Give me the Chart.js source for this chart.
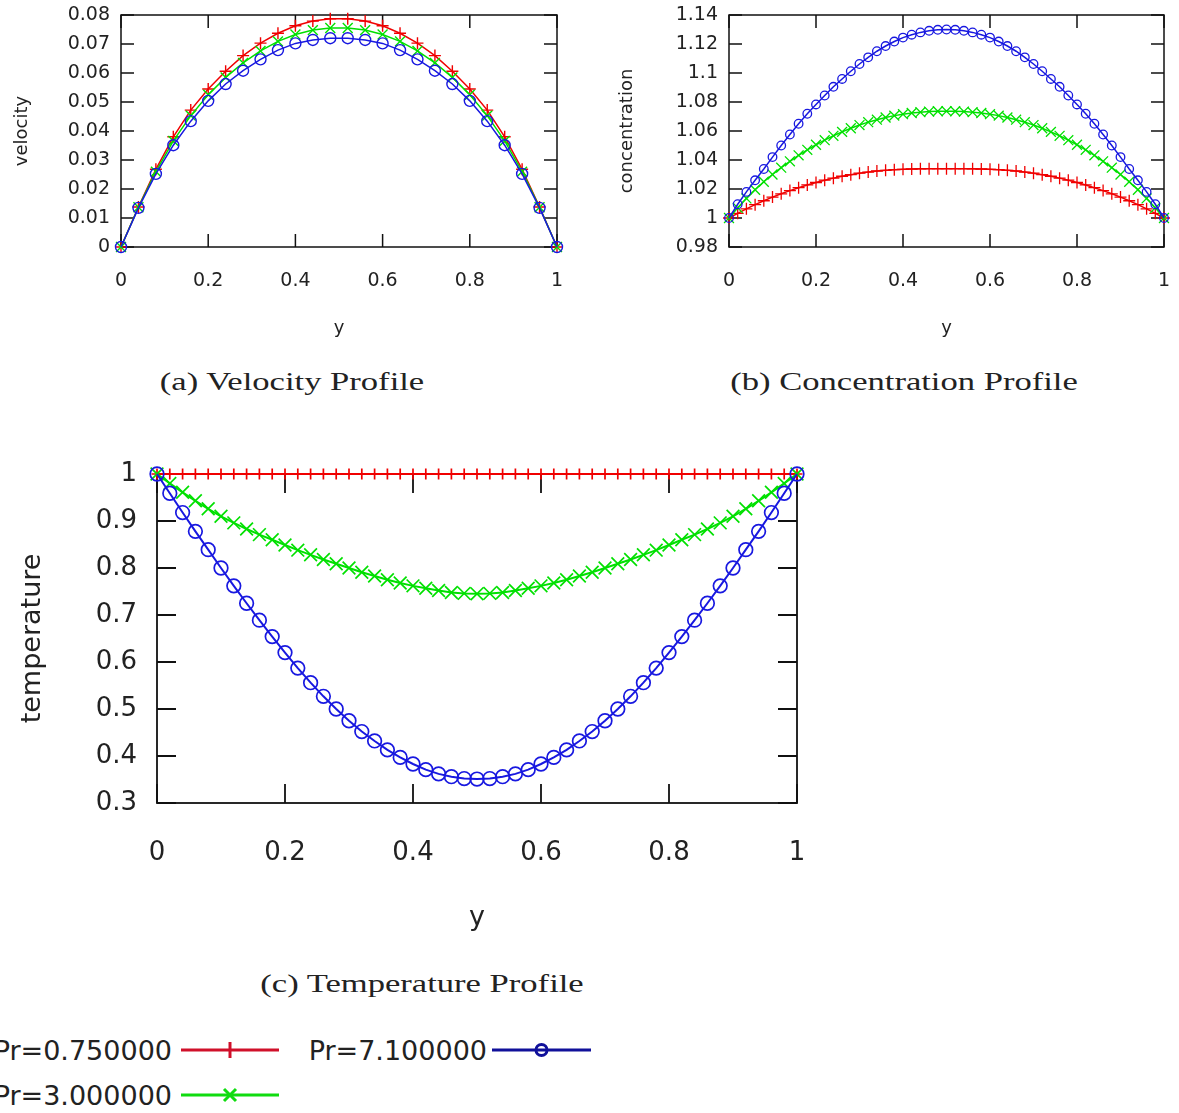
<!DOCTYPE html>
<html>
<head>
<meta charset="utf-8">
<script src="https://cdn.jsdelivr.net/npm/chart.js@4.4.1/dist/chart.umd.min.js"></script>
<style>
  body { margin: 0; background: #fff; }
  #page { position: relative; width: 1179px; height: 1113px; overflow: hidden; background: #fff; }
  .box { position: absolute; }
  .caption {
    position: absolute; white-space: nowrap; color: #222;
    font-family: "Liberation Serif", serif; font-size: 26px;
    transform: translate(-50%, -50%) scaleX(1.33);
  }
  .leg {
    position: absolute; white-space: nowrap; color: #222;
    font-family: "DejaVu Sans", sans-serif; font-size: 27px;
    transform: translate(-100%, -50%);
  }
  #legendLines { position: absolute; left: 0; top: 1020px; }
</style>
</head>
<body>
<div id="page">
  <div class="box" style="left:0;top:0;width:580px;height:350px"><canvas id="velChart"></canvas></div>
  <div class="box" style="left:600px;top:0;width:579px;height:350px"><canvas id="concChart"></canvas></div>
  <div class="box" style="left:0;top:440px;width:830px;height:510px"><canvas id="tempChart"></canvas></div>

  <div class="caption" style="left:292px;top:382px">(a) Velocity Profile</div>
  <div class="caption" style="left:904px;top:382px">(b) Concentration Profile</div>
  <div class="caption" style="left:422px;top:984px">(c) Temperature Profile</div>

  <div id="legend"></div>
</div>

<script>
// ----- dados -----
const seriesNames = ['Pr=0.750000', 'Pr=3.000000', 'Pr=7.100000'];

// posição no canal (26 pontos para velocidade)
const posVel = [0, 0.04, 0.08, 0.12, 0.16, 0.2, 0.24, 0.28, 0.32, 0.36, 0.4, 0.44, 0.48,
  0.52, 0.56, 0.6, 0.64, 0.68, 0.72, 0.76, 0.8, 0.84, 0.88, 0.92, 0.96, 1];

const velPr075 = [0, 0.0138, 0.0268, 0.0380, 0.0472, 0.0545, 0.0606, 0.0660, 0.0703, 0.0737, 0.0763, 0.0779, 0.0787,
  0.0787, 0.0779, 0.0763, 0.0737, 0.0703, 0.0660, 0.0606, 0.0545, 0.0472, 0.0380, 0.0268, 0.0138, 0];
const velPr3 = [0, 0.0137, 0.0260, 0.0366, 0.0453, 0.0525, 0.0585, 0.0635, 0.0676, 0.0709, 0.0733, 0.0748, 0.0755,
  0.0755, 0.0748, 0.0733, 0.0709, 0.0676, 0.0635, 0.0585, 0.0525, 0.0453, 0.0366, 0.0260, 0.0137, 0];
const velPr71 = [0, 0.0135, 0.0252, 0.0351, 0.0434, 0.0504, 0.0562, 0.0608, 0.0647, 0.0679, 0.0702, 0.0714, 0.0720,
  0.0720, 0.0714, 0.0702, 0.0679, 0.0647, 0.0608, 0.0562, 0.0504, 0.0434, 0.0351, 0.0252, 0.0135, 0];

// posição no canal (51 pontos para concentração e temperatura)
const pos51 = [0, 0.02, 0.04, 0.06, 0.08, 0.1, 0.12, 0.14, 0.16, 0.18, 0.2, 0.22, 0.24, 0.26, 0.28, 0.3,
  0.32, 0.34, 0.36, 0.38, 0.4, 0.42, 0.44, 0.46, 0.48, 0.5, 0.52, 0.54, 0.56, 0.58, 0.6, 0.62, 0.64,
  0.66, 0.68, 0.7, 0.72, 0.74, 0.76, 0.78, 0.8, 0.82, 0.84, 0.86, 0.88, 0.9, 0.92, 0.94, 0.96, 0.98, 1];

const concPr075 = [1, 1.0032, 1.0063, 1.0092, 1.0119, 1.0144, 1.0167, 1.0189, 1.0209, 1.0228, 1.0245, 1.0261, 1.0275,
  1.0288, 1.0299, 1.0309, 1.0317, 1.0324, 1.0329, 1.0333, 1.0336, 1.0338, 1.0339, 1.0340, 1.0340, 1.0340,
  1.0340, 1.0340, 1.0339, 1.0338, 1.0336, 1.0333, 1.0329, 1.0324, 1.0317, 1.0309, 1.0299, 1.0288,
  1.0275, 1.0261, 1.0245, 1.0228, 1.0209, 1.0189, 1.0167, 1.0144, 1.0119, 1.0092, 1.0063, 1.0032, 1];
const concPr3 = [1, 1.0070, 1.0135, 1.0195, 1.0250, 1.0300, 1.0347, 1.0391, 1.0432, 1.0470, 1.0505, 1.0537, 1.0567,
  1.0594, 1.0619, 1.0641, 1.0661, 1.0678, 1.0693, 1.0706, 1.0716, 1.0724, 1.0730, 1.0734, 1.0736, 1.0737,
  1.0736, 1.0734, 1.0730, 1.0724, 1.0716, 1.0706, 1.0693, 1.0678, 1.0661, 1.0641, 1.0619, 1.0594,
  1.0567, 1.0537, 1.0505, 1.0470, 1.0432, 1.0391, 1.0347, 1.0300, 1.0250, 1.0195, 1.0135, 1.0070, 1];
const concPr71 = [1, 1.0095, 1.0180, 1.0260, 1.0338, 1.0420, 1.0500, 1.0576, 1.0650, 1.0719, 1.0783, 1.0845, 1.0905,
  1.0959, 1.1012, 1.1062, 1.1108, 1.1150, 1.1186, 1.1217, 1.1244, 1.1264, 1.1280, 1.1291, 1.1298, 1.1300,
  1.1298, 1.1291, 1.1280, 1.1264, 1.1244, 1.1217, 1.1186, 1.1150, 1.1108, 1.1062, 1.1012, 1.0959,
  1.0905, 1.0845, 1.0783, 1.0719, 1.0650, 1.0576, 1.0500, 1.0420, 1.0338, 1.0260, 1.0180, 1.0095, 1];

const tempPr075 = [1, 1, 1, 1, 1, 1, 1, 1, 1, 1, 1, 1, 1, 1, 1, 1, 1, 1, 1, 1, 1, 1, 1, 1, 1, 1,
  1, 1, 1, 1, 1, 1, 1, 1, 1, 1, 1, 1, 1, 1, 1, 1, 1, 1, 1, 1, 1, 1, 1, 1, 1];
const tempPr3 = [1, 0.980, 0.961, 0.943, 0.926, 0.910, 0.896, 0.883, 0.871, 0.860, 0.849, 0.838, 0.828,
  0.818, 0.809, 0.800, 0.791, 0.783, 0.775, 0.768, 0.762, 0.757, 0.752, 0.748, 0.746, 0.745,
  0.746, 0.748, 0.752, 0.757, 0.762, 0.768, 0.775, 0.783, 0.791, 0.800, 0.809, 0.818,
  0.828, 0.838, 0.849, 0.860, 0.871, 0.883, 0.896, 0.910, 0.926, 0.943, 0.961, 0.980, 1];
const tempPr71 = [1, 0.959, 0.918, 0.878, 0.839, 0.800, 0.762, 0.725, 0.689, 0.654, 0.620, 0.587, 0.556,
  0.527, 0.500, 0.475, 0.452, 0.432, 0.413, 0.397, 0.383, 0.371, 0.362, 0.356, 0.352, 0.351,
  0.352, 0.356, 0.362, 0.371, 0.383, 0.397, 0.413, 0.432, 0.452, 0.475, 0.500, 0.527,
  0.556, 0.587, 0.620, 0.654, 0.689, 0.725, 0.762, 0.800, 0.839, 0.878, 0.918, 0.959, 1];

// ticks
const xTicks = [0, 0.2, 0.4, 0.6, 0.8, 1];
const xTickLabels = ['0', '0.2', '0.4', '0.6', '0.8', '1'];
const velTicks = [0, 0.01, 0.02, 0.03, 0.04, 0.05, 0.06, 0.07, 0.08];
const velTickLabels = ['0', '0.01', '0.02', '0.03', '0.04', '0.05', '0.06', '0.07', '0.08'];
const concTicks = [0.98, 1, 1.02, 1.04, 1.06, 1.08, 1.1, 1.12, 1.14];
const concTickLabels = ['0.98', '1', '1.02', '1.04', '1.06', '1.08', '1.1', '1.12', '1.14'];
const tempTicks = [0.3, 0.4, 0.5, 0.6, 0.7, 0.8, 0.9, 1];
const tempTickLabels = ['0.3', '0.4', '0.5', '0.6', '0.7', '0.8', '0.9', '1'];

// ----- estilo -----
const cores = ['#f00000', '#00e000', '#1818e0'];
const marcadores = ['cross', 'crossRot', 'circle'];
const FONTE = '"DejaVu Sans", sans-serif';
const TEXTO = '#222';

// moldura estilo gnuplot: borda + ticks para dentro nos 4 lados
const molduraGnuplot = {
  id: 'molduraGnuplot',
  beforeDatasetsDraw(chart, args, opts) {
    const { ctx, chartArea: a, scales: { x, y } } = chart;
    ctx.save();
    ctx.strokeStyle = '#111';
    ctx.lineWidth = opts.lineWidth;
    ctx.beginPath();
    x.ticks.forEach(t => {
      const px = x.getPixelForValue(t.value);
      ctx.moveTo(px, a.bottom); ctx.lineTo(px, a.bottom - opts.len);
      ctx.moveTo(px, a.top); ctx.lineTo(px, a.top + opts.len);
    });
    y.ticks.forEach(t => {
      const py = y.getPixelForValue(t.value);
      ctx.moveTo(a.left, py); ctx.lineTo(a.left + opts.len, py);
      ctx.moveTo(a.right, py); ctx.lineTo(a.right - opts.len, py);
    });
    ctx.stroke();
    ctx.strokeRect(a.left, a.top, a.right - a.left, a.bottom - a.top);
    ctx.restore();
  }
};

function criarGrafico(id, cfg) {
  const ctx = document.getElementById(id).getContext('2d');
  const datasets = cfg.series.map((ys, i) => ({
    label: seriesNames[i],
    data: cfg.xs.map((x, k) => ({ x: x, y: ys[k] })),
    borderColor: cores[i],
    backgroundColor: 'transparent',
    borderWidth: cfg.lineWidth,
    pointStyle: marcadores[i],
    pointRadius: cfg.radius[i],
    pointBorderWidth: cfg.markWidth,
    pointBorderColor: cores[i],
    pointBackgroundColor: 'transparent',
    tension: 0,
    clip: false,
    order: 3 - i
  }));

  return new Chart(ctx, {
    type: 'line',
    data: { datasets: datasets },
    plugins: [molduraGnuplot],
    options: {
      responsive: true,
      maintainAspectRatio: false,
      animation: false,
      events: [],
      layout: { padding: cfg.padding },
      plugins: {
        legend: { display: false },
        tooltip: { enabled: false },
        molduraGnuplot: { len: cfg.tickLen, lineWidth: cfg.frameWidth }
      },
      scales: {
        x: {
          type: 'linear',
          min: 0,
          max: 1,
          grid: { display: false, drawTicks: false },
          border: { display: false },
          afterBuildTicks: s => { s.ticks = xTicks.map(v => ({ value: v })); },
          afterFit: s => {
            s.height = cfg.xAxisHeight;
            s.paddingLeft = 0;
            s.paddingRight = 0;
          },
          ticks: {
            padding: cfg.xTickPad,
            color: TEXTO,
            font: { family: FONTE, size: cfg.tickSize },
            maxRotation: 0,
            callback: (v, i) => xTickLabels[i]
          },
          title: {
            display: true,
            text: 'y',
            color: TEXTO,
            font: { family: FONTE, size: cfg.titleSize },
            padding: { top: 0, bottom: cfg.xTitlePad }
          }
        },
        y: {
          type: 'linear',
          min: cfg.yTicks[0],
          max: cfg.yTicks[cfg.yTicks.length - 1],
          grid: { display: false, drawTicks: false },
          border: { display: false },
          afterBuildTicks: s => { s.ticks = cfg.yTicks.map(v => ({ value: v })); },
          afterFit: s => {
            s.width = cfg.yAxisWidth;
            s.paddingTop = 0;
            s.paddingBottom = 0;
          },
          ticks: {
            padding: cfg.yTickPad,
            color: TEXTO,
            font: { family: FONTE, size: cfg.tickSize },
            callback: (v, i) => cfg.yTickLabels[i]
          },
          title: {
            display: true,
            text: cfg.yTitle,
            color: TEXTO,
            font: { family: FONTE, size: cfg.titleSize },
            padding: { top: cfg.yTitlePad, bottom: 0 }
          }
        }
      }
    }
  });
}

criarGrafico('velChart', {
  xs: posVel,
  series: [velPr075, velPr3, velPr71],
  yTicks: velTicks, yTickLabels: velTickLabels, yTitle: 'velocity',
  padding: { top: 15, right: 23, bottom: 0, left: 0 },
  yAxisWidth: 121, xAxisHeight: 103,
  tickSize: 19, titleSize: 18,
  xTickPad: 23, yTickPad: 11, xTitlePad: 11, yTitlePad: 12,
  tickLen: 13, frameWidth: 1.5,
  lineWidth: 1.5, markWidth: 1.4, radius: [6, 7, 5.5]
});

criarGrafico('concChart', {
  xs: pos51,
  series: [concPr075, concPr3, concPr71],
  yTicks: concTicks, yTickLabels: concTickLabels, yTitle: 'concentration',
  padding: { top: 15, right: 15, bottom: 0, left: 0 },
  yAxisWidth: 129, xAxisHeight: 103,
  tickSize: 19, titleSize: 18,
  xTickPad: 23, yTickPad: 11, xTitlePad: 11, yTitlePad: 17,
  tickLen: 13, frameWidth: 1.5,
  lineWidth: 1.5, markWidth: 1.3, radius: [6, 7, 4.3]
});

criarGrafico('tempChart', {
  xs: pos51,
  series: [tempPr075, tempPr3, tempPr71],
  yTicks: tempTicks, yTickLabels: tempTickLabels, yTitle: 'temperature',
  padding: { top: 34, right: 33, bottom: 0, left: 0 },
  yAxisWidth: 157, xAxisHeight: 147,
  tickSize: 26, titleSize: 27,
  xTickPad: 35, yTickPad: 20, xTitlePad: 16, yTitlePad: 17,
  tickLen: 19, frameWidth: 1.8,
  lineWidth: 2, markWidth: 1.7, radius: [5.5, 9, 6.8]
});

// ----- legenda (texto à esquerda, amostra à direita, como no gnuplot) -----
const legenda = document.getElementById('legend');
const itensLegenda = [
  { serie: 0, textoX: 172, y: 1050, linha: [181, 279] },
  { serie: 2, textoX: 487, y: 1050, linha: [492, 591] },
  { serie: 1, textoX: 172, y: 1095, linha: [181, 279] }
];
const coresLegenda = ['#d0102a', '#10dc10', '#10109a'];

let svg = '<svg id="legendLines" width="620" height="100" xmlns="http://www.w3.org/2000/svg">';
itensLegenda.forEach(item => {
  const div = document.createElement('div');
  div.className = 'leg';
  div.style.left = item.textoX + 'px';
  div.style.top = item.y + 'px';
  div.textContent = seriesNames[item.serie];
  legenda.appendChild(div);

  const cor = coresLegenda[item.serie];
  const y = item.y - 1020;
  const [x1, x2] = item.linha;
  const cx = (x1 + x2) / 2;
  svg += `<line x1="${x1}" y1="${y}" x2="${x2}" y2="${y}" stroke="${cor}" stroke-width="3"/>`;
  if (item.serie === 0) {
    svg += `<line x1="${cx}" y1="${y - 8}" x2="${cx}" y2="${y + 8}" stroke="${cor}" stroke-width="3"/>`;
  } else if (item.serie === 1) {
    svg += `<path d="M${cx - 6} ${y - 6} L${cx + 6} ${y + 6} M${cx - 6} ${y + 6} L${cx + 6} ${y - 6}" stroke="${cor}" stroke-width="3"/>`;
  } else {
    svg += `<circle cx="${cx}" cy="${y}" r="5.5" fill="none" stroke="${cor}" stroke-width="3"/>`;
  }
});
svg += '</svg>';
legenda.insertAdjacentHTML('beforeend', svg);
</script>
</body>
</html>
